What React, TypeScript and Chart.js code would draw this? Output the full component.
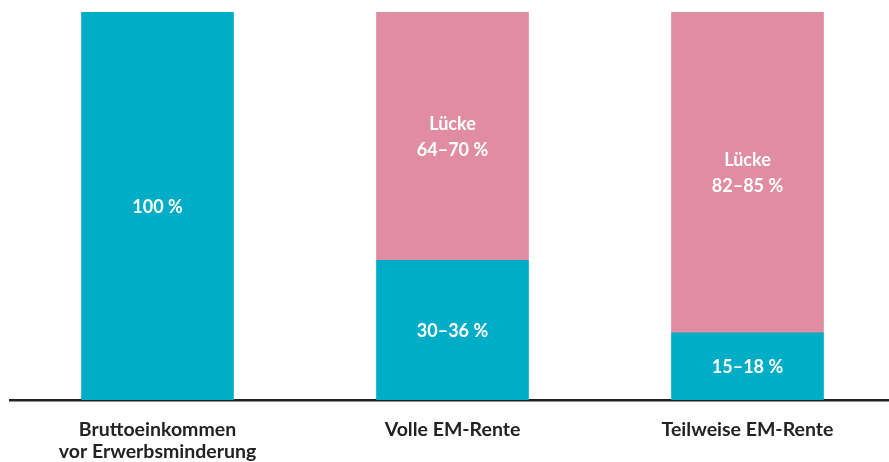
import React, { useEffect, useRef } from "react";
import { Chart, registerables } from "chart.js";

Chart.register(...registerables);

const categories: (string | string[])[] = [
  ["Bruttoeinkommen", "vor Erwerbsminderung"],
  "Volle EM-Rente",
  "Teilweise EM-Rente",
];
const renteValues = [100, 36, 17.3];
const lueckeValues = [0, 64, 82.7];
const renteLabels = [["100 %"], ["30–36 %"], ["15–18 %"]];
const lueckeLabels = [[], ["Lücke", "64–70 %"], ["Lücke", "82–85 %"]];

const TEAL = "#00adc6";
const PINK = "#e08ca2";
const FONT = "Lato, 'Open Sans', sans-serif";

const segmentLabels = {
  id: "segmentLabels",
  afterDatasetsDraw(chart: any) {
    const ctx = chart.ctx;
    const sets = [renteLabels, lueckeLabels];
    ctx.save();
    ctx.fillStyle = "#ffffff";
    ctx.font = `bold 18px ${FONT}`;
    ctx.textAlign = "center";
    ctx.textBaseline = "middle";
    chart.data.datasets.forEach((_: any, di: number) => {
      const meta = chart.getDatasetMeta(di);
      meta.data.forEach((el: any, i: number) => {
        const lines = sets[di][i] || [];
        if (!lines.length) return;
        const cy = (el.y + el.base) / 2 + 1;
        const lh = 26;
        const start = cy - ((lines.length - 1) * lh) / 2;
        lines.forEach((t: string, k: number) => ctx.fillText(t, el.x, start + k * lh));
      });
    });
    ctx.restore();
  },
};

export default function App() {
  const ref = useRef<HTMLCanvasElement | null>(null);
  useEffect(() => {
    document.body.style.margin = "0";
    const chart = new Chart(ref.current as HTMLCanvasElement, {
      type: "bar",
      data: {
        labels: categories as any,
        datasets: [
          { label: "Rente", data: renteValues, backgroundColor: TEAL, barThickness: 152 },
          { label: "Lücke", data: lueckeValues, backgroundColor: PINK, barThickness: 152 },
        ],
      },
      options: {
        animation: false,
        responsive: false,
        maintainAspectRatio: false,
        layout: { padding: { top: 12, left: 10, right: 0, bottom: 0 } },
        plugins: { legend: { display: false }, tooltip: { enabled: false } },
        scales: {
          x: {
            stacked: true,
            grid: { display: false },
            border: { display: true, color: "#222222", width: 2.5 },
            ticks: {
              color: "#222222",
              font: { family: FONT, size: 19.5, weight: "bold", lineHeight: 1.13 },
              padding: 11,
              maxRotation: 0,
              autoSkip: false,
            },
            afterFit(scale: any) {
              scale.height = 62;
            },
          },
          y: {
            stacked: true,
            display: false,
            min: 0,
            max: 100,
          },
        },
      },
      plugins: [segmentLabels],
    });
    return () => chart.destroy();
  }, []);
  return (
    <div style={{ width: 889, height: 462, overflow: "hidden" }}>
      <canvas ref={ref} width={895} height={462} style={{ display: "block" }} />
    </div>
  );
}
